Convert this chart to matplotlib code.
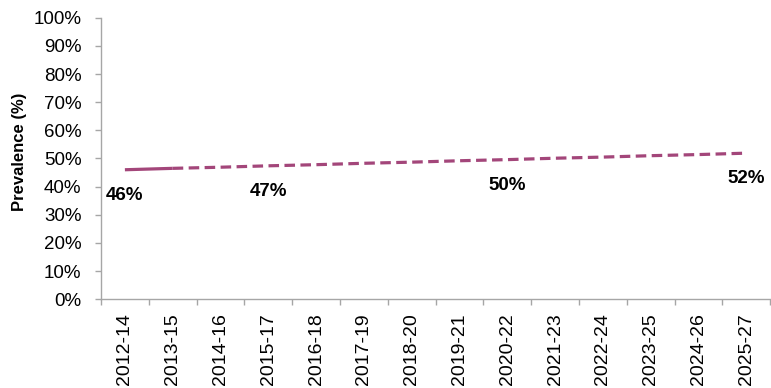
import matplotlib
matplotlib.use("Agg")
import matplotlib.pyplot as plt
import numpy as np
from matplotlib.ticker import PercentFormatter, FixedLocator

# Datos
periodos = ["2012-14", "2013-15", "2014-16", "2015-17", "2016-18", "2017-19", "2018-20",
            "2019-21", "2020-22", "2021-23", "2022-24", "2023-25", "2024-26", "2025-27"]
observado = [46.0, 46.5]  # parte sólida
proyeccion = [46.5, 46.9, 47.4, 47.8, 48.3, 48.7, 49.2, 49.6, 50.1, 50.5, 51.0, 51.4, 51.9]  # discontinua
etiquetas_idx = [0, 3, 8, 13]
etiquetas_txt = ["46%", "47%", "50%", "52%"]

plt.rcParams["font.family"] = ["Liberation Sans", "DejaVu Sans"]
color = "#A3467A"
gris = "#A6A6A6"

fig = plt.figure(figsize=(7.71, 3.88), dpi=100)
ax = fig.add_axes([0.131, 0.229, 0.868, 0.725])

x = np.arange(len(periodos))
ax.plot(x[:2], observado, color=color, lw=2.3, solid_capstyle="butt")
ax.plot(x[1:], proyeccion, color=color, lw=2.3, linestyle=(0, (3.3, 1.7)))

todos = observado[:1] + proyeccion
for i, txt in zip(etiquetas_idx, etiquetas_txt):
    ax.annotate(txt, (x[i], todos[i]), xytext=(0, -18.5), textcoords="offset points",
                ha="center", va="center", fontsize=13.5, fontweight="bold")

ax.set_xlim(-0.5, len(periodos) - 0.5)
ax.set_ylim(0, 100)
ax.set_yticks(np.arange(0, 101, 10))
ax.yaxis.set_major_formatter(PercentFormatter(decimals=0))
ax.set_xticks(x)
ax.set_xticklabels(periodos, rotation=90)
ax.xaxis.set_minor_locator(FixedLocator(np.arange(-0.5, len(periodos), 1)))
ax.tick_params(axis="x", which="major", length=0, labelsize=14, pad=10)
ax.tick_params(axis="x", which="minor", length=4, color=gris, width=1)
ax.tick_params(axis="y", length=4, color=gris, width=1, labelsize=13.5, pad=10)

for lado in ["top", "right"]:
    ax.spines[lado].set_visible(False)
for lado in ["left", "bottom"]:
    ax.spines[lado].set_color(gris)
    ax.spines[lado].set_linewidth(1)

ax.set_ylabel("Prevalence (%)", fontsize=12, fontweight="bold")
ax.yaxis.set_label_coords(-0.111, 0.523)

fig.savefig("out.png", dpi=100)
